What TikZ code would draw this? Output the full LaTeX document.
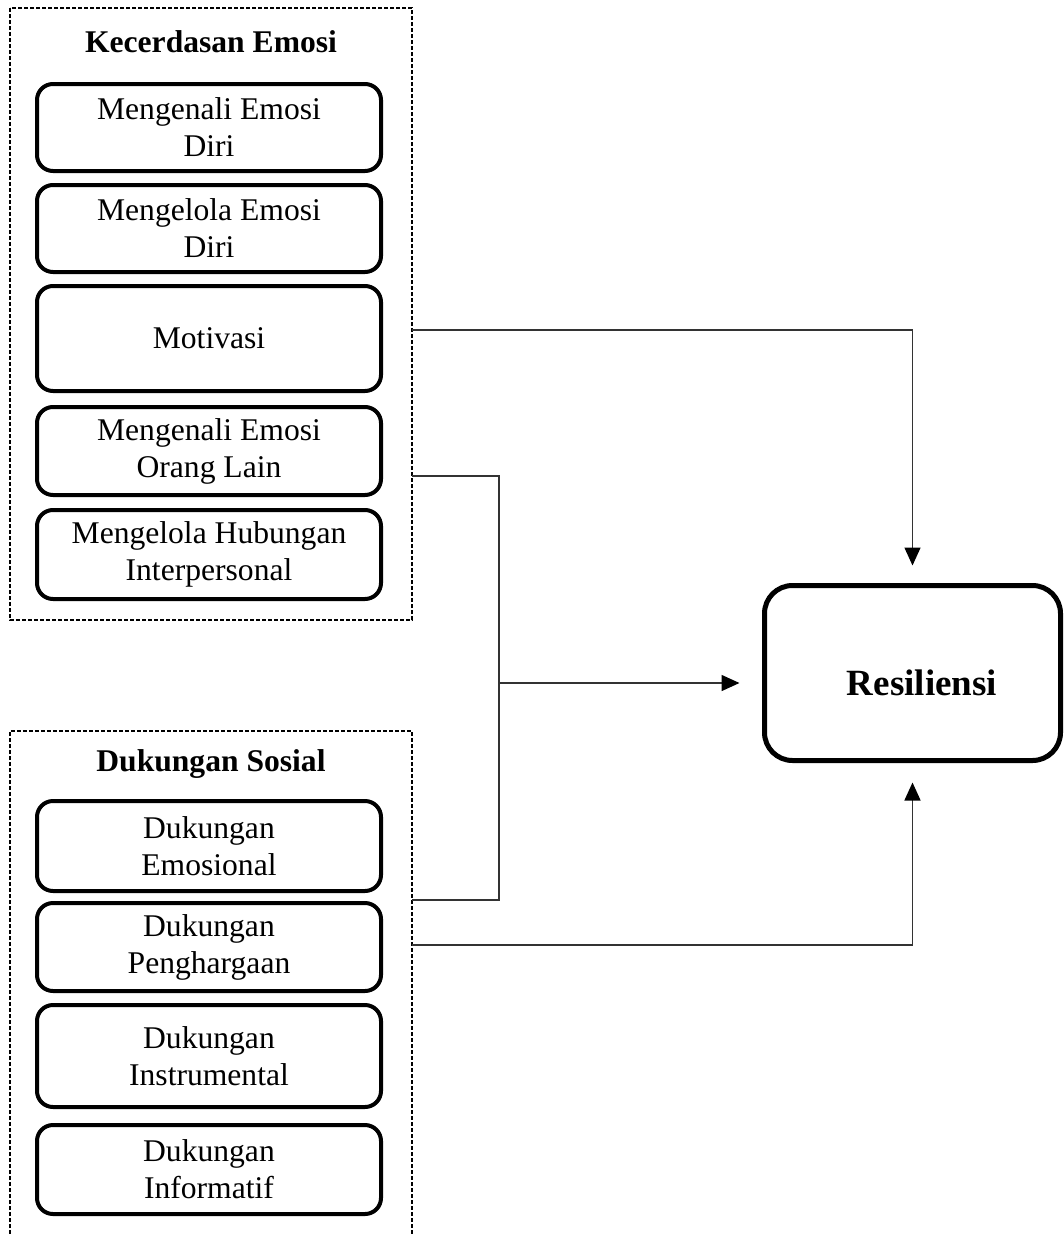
\documentclass[tikz,border=0pt]{standalone}
\usepackage{fontspec}
\setmainfont{Liberation Serif}
\usetikzlibrary{arrows.meta}
\begin{document}
\begin{tikzpicture}[x=1pt,y=-1pt,
    item/.style={draw,line width=4pt,rounded corners=16pt,minimum width=344pt,
      align=center,inner sep=0pt,font=\fontsize{31.6pt}{37pt}\selectfont},
    grouptitle/.style={anchor=base,font=\fontsize{31.6pt}{37pt}\selectfont\bfseries},
    groupframe/.style={draw,line width=1.5pt,dash pattern=on 4pt off 2pt},
    conn/.style={draw=black!80,line width=1.5pt},
    arrow/.style={-{Triangle[length=18pt,width=16pt,black]}}]
  \useasboundingbox (0,0) rectangle (1064,1234);
  % kecerdasan emosi
  \draw[groupframe] (10,8) rectangle (412,620);
  \node[grouptitle] (ketitle) at (211,52) {Kecerdasan Emosi};
  \node[item,minimum height=87pt] (k1) at (209,127.5) {Mengenali Emosi\\Diri};
  \node[item,minimum height=87pt] (k2) at (209,228.5) {Mengelola Emosi\\Diri};
  \node[item,minimum height=105pt] (k3) at (209,338.5) {Motivasi};
  \node[item,minimum height=88pt] (k4) at (209,451) {Mengenali Emosi\\Orang Lain};
  \node[item,minimum height=89pt] (k5) at (209,554.5) {Mengelola Hubungan\\Interpersonal};
  % dukungan sosial
  \draw[groupframe] (10,1234) -- (10,731) -- (412,731) -- (412,1234);
  \node[grouptitle] (dstitle) at (211,771) {Dukungan Sosial};
  \node[item,minimum height=90pt] (d1) at (209,846) {Dukungan\\Emosional};
  \node[item,minimum height=88pt] (d2) at (209,947) {Dukungan\\Penghargaan};
  \node[item,minimum height=102pt] (d3) at (209,1056) {Dukungan\\Instrumental};
  \node[item,minimum height=89pt] (d4) at (209,1169.5) {Dukungan\\Informatif};
  % resiliensi
  \node[draw,line width=5pt,rounded corners=28pt,minimum width=296pt,minimum height=175pt,
    text height=45pt,text depth=0pt,font=\fontsize{37pt}{44pt}\selectfont\bfseries]
    (res) at (912.5,673) {\hspace*{19pt}Resiliensi};
  % connectors
  \coordinate (c3) at (412,330);
  \coordinate (c4) at (412,476);
  \coordinate (c6) at (412,900);
  \coordinate (c7) at (412,945);
  \coordinate (jn) at (499,683);
  \draw[conn,arrow,shorten >=17.5pt] (c3) -| (res.north);
  \draw[conn] (c4) -| (jn) |- (c6);
  \draw[conn,arrow,shorten >=22.5pt] (jn) -- (jn -| res.west);
  \draw[conn,arrow,shorten >=19.5pt] (c7) -| (res.south);
\end{tikzpicture}
\end{document}
